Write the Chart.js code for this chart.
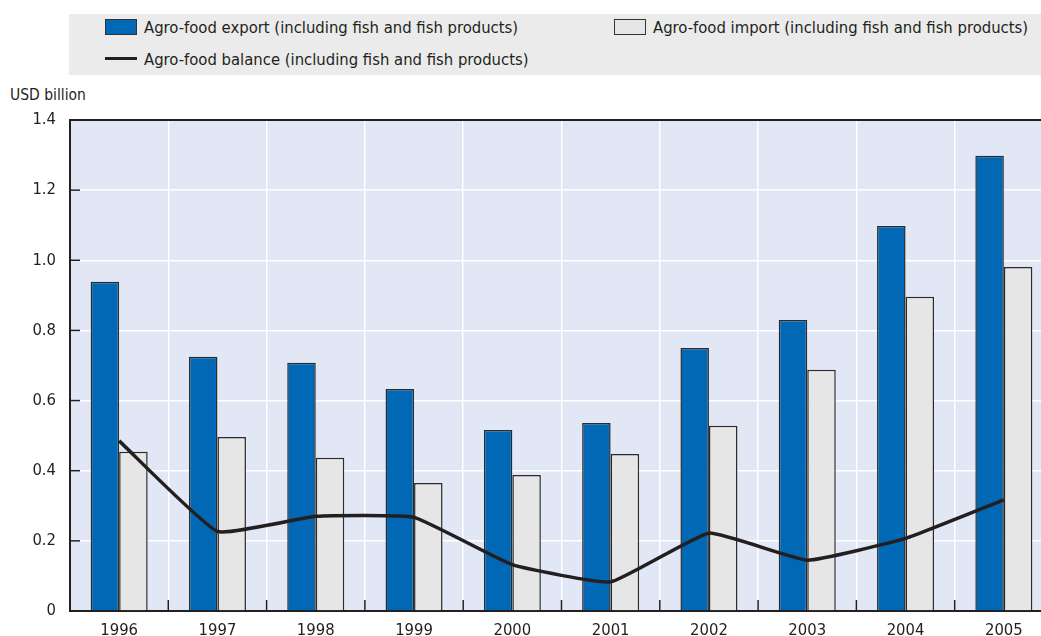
<!DOCTYPE html>
<html>
<head>
<meta charset="utf-8">
<script src="https://cdn.jsdelivr.net/npm/chart.js@4/dist/chart.umd.min.js"></script>
<style>
  html, body { margin: 0; padding: 0; background: #fff; overflow: hidden; }
  body { width: 1041px; height: 636px; position: relative;
         font-family: "Liberation Sans Narrow", "DejaVu Sans Condensed", "Liberation Sans", sans-serif; color: #231f20; }
  #wrap { position: absolute; left: 0; top: 0; width: 1054px; height: 636px; }
  #legend { position: absolute; left: 69px; top: 14px; width: 972px; height: 61px; background: #ebebeb; font-size: 16.5px; }
  .item { position: absolute; white-space: nowrap; line-height: 20px; }
  .box { display: inline-block; width: 30px; height: 14px; border: 1px solid #333; vertical-align: -2px; margin-right: 7px; }
  .line { display: inline-block; width: 32px; height: 3px; background: #231f20; vertical-align: 5px; margin-right: 7px; }
  #ytitle { position: absolute; left: 10px; top: 86px; font-size: 15.5px; }
</style>
</head>
<body>
<div id="legend">
  <div class="item" style="left:36px; top:4px;"><span class="box" style="background:#0068b4"></span>Agro-food export (including fish and fish products)</div>
  <div class="item" style="left:545px; top:4px;"><span class="box" style="background:#e6e6e6"></span>Agro-food import (including fish and fish products)</div>
  <div class="item" style="left:36px; top:36px;"><span class="line"></span>Agro-food balance (including fish and fish products)</div>
</div>
<div id="ytitle">USD billion</div>
<div id="wrap"><canvas id="chart" width="1054" height="636"></canvas></div>
<script>
const years = ['1996', '1997', '1998', '1999', '2000', '2001', '2002', '2003', '2004', '2005'];
const exportValues = [0.939, 0.725, 0.708, 0.633, 0.516, 0.536, 0.750, 0.830, 1.098, 1.298];
const importValues = [0.454, 0.496, 0.437, 0.365, 0.388, 0.448, 0.528, 0.688, 0.896, 0.981];
const balanceValues = [0.485, 0.227, 0.270, 0.267, 0.132, 0.083, 0.222, 0.145, 0.207, 0.317];
const yTicks = [0, 0.2, 0.4, 0.6, 0.8, 1.0, 1.2, 1.4];

const fontFamily = '"Liberation Sans Narrow", "DejaVu Sans Condensed", "Liberation Sans", sans-serif';

// plot background, top frame line and small inside tick marks
const framePlugin = {
  id: 'frame',
  beforeDraw(chart) {
    const { ctx, chartArea: a } = chart;
    ctx.save();
    ctx.fillStyle = '#e1e7f4';
    ctx.fillRect(a.left, a.top, a.right - a.left, a.bottom - a.top);
    ctx.restore();
  },
  afterDatasetsDraw(chart) {
    const { ctx, chartArea: a, scales } = chart;
    ctx.save();
    ctx.strokeStyle = '#231f20';
    ctx.lineWidth = 2;
    ctx.beginPath();
    ctx.moveTo(a.left, a.top);
    ctx.lineTo(a.right, a.top);
    ctx.stroke();
    ctx.lineWidth = 1.5;
    yTicks.slice(1, -1).forEach(v => {
      const y = scales.y.getPixelForValue(v);
      ctx.beginPath();
      ctx.moveTo(a.left, y);
      ctx.lineTo(a.left + 10, y);
      ctx.stroke();
    });
    for (let i = 0; i < years.length - 1; i++) {
      const x = (scales.x.getPixelForValue(i) + scales.x.getPixelForValue(i + 1)) / 2;
      ctx.beginPath();
      ctx.moveTo(x, a.bottom);
      ctx.lineTo(x, a.bottom - 11);
      ctx.stroke();
    }
    ctx.restore();
  }
};

new Chart(document.getElementById('chart'), {
  type: 'bar',
  data: {
    labels: years,
    datasets: [
      {
        type: 'line',
        label: 'Agro-food balance (including fish and fish products)',
        data: balanceValues,
        borderColor: '#231f20',
        borderWidth: 3.5,
        pointRadius: 0,
        tension: 0.12,
        order: 0
      },
      {
        label: 'Agro-food export (including fish and fish products)',
        data: exportValues,
        backgroundColor: '#0068b4',
        borderColor: '#2b2b2b',
        borderWidth: 1.5,
        categoryPercentage: 0.58,
        barPercentage: 1,
        order: 1
      },
      {
        label: 'Agro-food import (including fish and fish products)',
        data: importValues,
        backgroundColor: '#e6e6e6',
        borderColor: '#2b2b2b',
        borderWidth: 1.5,
        categoryPercentage: 0.58,
        barPercentage: 1,
        order: 1
      }
    ]
  },
  options: {
    responsive: false,
    animation: false,
    layout: { padding: { top: 120, right: 1, left: 0, bottom: 0 } },
    plugins: { legend: { display: false }, tooltip: { enabled: false } },
    scales: {
      x: {
        grid: { color: '#ffffff', lineWidth: 1.5, offset: true, drawTicks: false },
        border: { color: '#231f20', width: 2 },
        ticks: { color: '#231f20', padding: 10, font: { family: fontFamily, size: 16.5 } },
        afterFit(scale) { scale.height = 25; }
      },
      y: {
        min: 0,
        max: 1.4,
        afterBuildTicks(scale) { scale.ticks = yTicks.map(v => ({ value: v })); },
        grid: { color: '#ffffff', lineWidth: 1.5, drawTicks: false },
        border: { color: '#231f20', width: 2 },
        ticks: {
          color: '#231f20',
          padding: 14,
          font: { family: fontFamily, size: 16.5 },
          callback: v => (v === 0 ? '0' : v.toFixed(1))
        },
        afterFit(scale) { scale.width = 70; }
      }
    }
  },
  plugins: [framePlugin]
});
</script>
</body>
</html>
